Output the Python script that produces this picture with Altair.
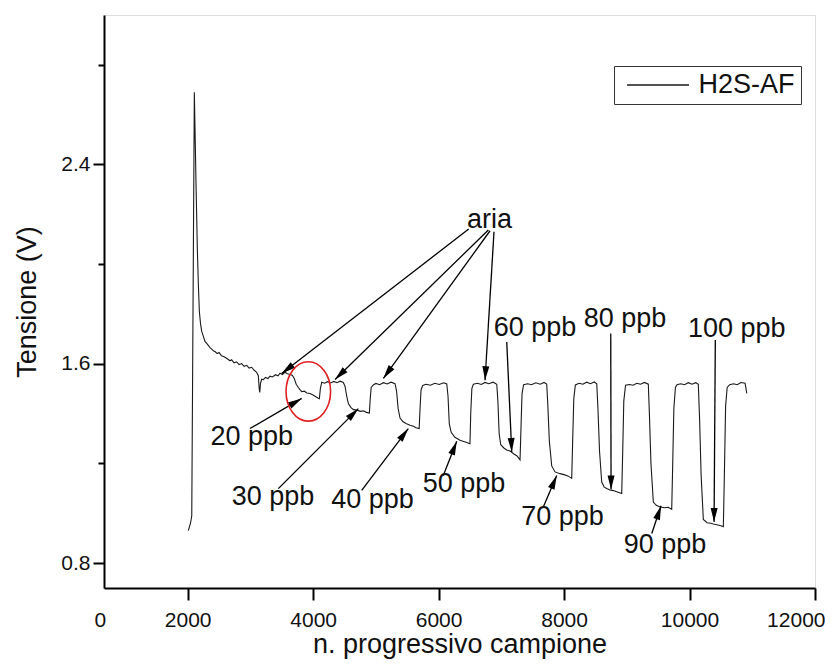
import math
import altair as alt
import pandas as pd

# ---------------- data ----------------
sample_x = [2010, 2045, 2065, 2106, 2120, 2133, 2154, 2170, 2186, 2205, 2224, 2250, 2276, 2310,
            2356, 2380, 2409, 2440, 2470, 2500, 2540, 2580, 2620, 2675, 2700, 2740, 2780, 2820,
            2860, 2900, 2941, 2980, 3020, 3060, 3100, 3126, 3140, 3150, 3160, 3180, 3206, 3240,
            3280, 3312, 3350, 3400, 3440, 3472, 3510, 3550, 3590, 3632, 3670, 3700, 3730, 3764,
            3790, 3818, 3860, 3900, 3950, 3990, 4030, 4057, 4080, 4099, 4115, 4137, 4180, 4230,
            4280, 4330, 4380, 4430, 4481, 4508, 4535, 4561, 4600, 4641, 4700, 4750, 4800, 4850,
            4896, 4910, 4925, 4959, 5000, 5060, 5120, 5180, 5240, 5305, 5330, 5355, 5385, 5430,
            5480, 5545, 5600, 5640, 5690, 5704, 5720, 5747, 5800, 5870, 5940, 6010, 6080, 6130,
            6150, 6170, 6200, 6260, 6341, 6400, 6450, 6500, 6512, 6530, 6554, 6620, 6680, 6740,
            6800, 6870, 6927, 6945, 6965, 6990, 7040, 7086, 7140, 7200, 7250, 7298, 7314, 7330,
            7355, 7420, 7480, 7550, 7620, 7680, 7723, 7740, 7765, 7803, 7856, 7935, 8000, 8060,
            8122, 8138, 8155, 8180, 8240, 8300, 8360, 8420, 8480, 8521, 8540, 8565, 8600, 8640,
            8680, 8730, 8785, 8850, 8919, 8935, 8952, 8980, 9040, 9100, 9160, 9220, 9280, 9343,
            9360, 9385, 9423, 9470, 9530, 9600, 9660, 9716, 9732, 9750, 9775, 9800, 9860, 9920,
            9980, 10040, 10100, 10140, 10160, 10185, 10220, 10280, 10340, 10380, 10450, 10500,
            10539, 10555, 10575, 10600, 10640, 10700, 10760, 10820, 10885, 10900, 10912]
tension_v = [0.93, 0.96, 0.99, 2.69, 2.50, 2.32, 2.06, 1.92, 1.81, 1.76, 1.73, 1.71, 1.69, 1.68,
             1.665, 1.660, 1.652, 1.648, 1.641, 1.645, 1.632, 1.628, 1.622, 1.612, 1.616, 1.604,
             1.608, 1.597, 1.601, 1.590, 1.594, 1.583, 1.586, 1.574, 1.566, 1.552, 1.500, 1.485,
             1.520, 1.538, 1.536, 1.545, 1.541, 1.550, 1.547, 1.556, 1.552, 1.562, 1.557, 1.566,
             1.560, 1.557, 1.553, 1.540, 1.518, 1.505, 1.496, 1.488, 1.490, 1.483, 1.481, 1.476,
             1.470, 1.466, 1.462, 1.460, 1.500, 1.526, 1.522, 1.528, 1.523, 1.529, 1.524, 1.530,
             1.525, 1.510, 1.470, 1.440, 1.425, 1.416, 1.414, 1.409, 1.411, 1.405, 1.402, 1.460,
             1.505, 1.515, 1.521, 1.516, 1.524, 1.519, 1.526, 1.520, 1.490, 1.420, 1.382, 1.368,
             1.360, 1.353, 1.349, 1.343, 1.340, 1.420, 1.495, 1.513, 1.518, 1.514, 1.522, 1.517,
             1.524, 1.519, 1.470, 1.360, 1.325, 1.305, 1.293, 1.288, 1.284, 1.279, 1.400, 1.500,
             1.518, 1.522, 1.517, 1.525, 1.520, 1.526, 1.518, 1.450, 1.320, 1.275, 1.262, 1.254,
             1.250, 1.238, 1.230, 1.214, 1.350, 1.480, 1.516, 1.520, 1.516, 1.524, 1.518, 1.525,
             1.519, 1.440, 1.290, 1.190, 1.166, 1.159, 1.155, 1.150, 1.140, 1.300, 1.460, 1.515,
             1.522, 1.518, 1.526, 1.520, 1.527, 1.520, 1.420, 1.250, 1.125, 1.105, 1.099, 1.093,
             1.091, 1.085, 1.079, 1.250, 1.450, 1.514, 1.517, 1.514, 1.522, 1.518, 1.525, 1.518,
             1.400, 1.200, 1.045, 1.032, 1.025, 1.022, 1.024, 1.016, 1.200, 1.420, 1.505, 1.516,
             1.520, 1.516, 1.524, 1.518, 1.524, 1.518, 1.380, 1.150, 0.975, 0.962, 0.960, 0.957,
             0.953, 0.950, 0.946, 1.150, 1.430, 1.505, 1.516, 1.520, 1.516, 1.525, 1.522, 1.500,
             1.481]
series_name = ["H2S-AF"]

ann_labels = ["aria", "20 ppb", "30 ppb", "40 ppb", "50 ppb", "60 ppb",
              "70 ppb", "80 ppb", "90 ppb", "100 ppb"]
ann_x = [6812, 3021, 3360, 4947, 6405, 7537, 7975, 8972, 9609, 10752]
ann_y = [2.145, 1.273, 1.032, 1.020, 1.086, 1.711, 0.951, 1.749, 0.839, 1.709]

arrow_x1 = [6480, 6793, 6820, 6883, 2994, 3445, 4774, 6075, 7086, 7669, 8744, 9398, 10411]
arrow_y1 = [2.141, 2.137, 2.134, 2.130, 1.340, 1.099, 1.092, 1.152, 1.688, 1.025, 1.722, 0.919, 1.695]
arrow_x2 = [3499, 4349, 5119, 6740, 3818, 4720, 5517, 6289, 7166, 7883, 8749, 9546, 10391]
arrow_y2 = [1.561, 1.537, 1.541, 1.534, 1.461, 1.420, 1.340, 1.289, 1.246, 1.152, 1.095, 1.030, 0.965]

circle_x = [3923]
circle_y = [1.489]

x_ticks = [666, 2000, 4000, 6000, 8000, 10000, 12000]
y_ticks = [0.8, 1.2, 1.6, 2.0, 2.4, 2.8]

# ---------------- layout ----------------
XMIN, XMAX = 666, 12000
YMIN, YMAX = 0.7, 3.0
W, H = 711, 573
FONT = "Liberation Sans"

kx = W / (XMAX - XMIN)
ky = H / (YMAX - YMIN)

trace = pd.DataFrame({"x": sample_x, "y": tension_v, "series": series_name * len(sample_x)})
ann = pd.DataFrame({"x": ann_x, "y": ann_y, "label": ann_labels})
arrows = pd.DataFrame({"x": arrow_x1, "y": arrow_y1, "x2": arrow_x2, "y2": arrow_y2})
arrows["angle"] = [
    math.degrees(math.atan2((bx - ax) * kx, (by - ay) * ky)) % 360
    for ax, ay, bx, by in zip(arrow_x1, arrow_y1, arrow_x2, arrow_y2)
]
circ = pd.DataFrame({"x": circle_x, "y": circle_y})

xs = alt.Scale(domain=[XMIN, XMAX], nice=False, zero=False)
ys = alt.Scale(domain=[YMIN, YMAX], nice=False, zero=False)

major_test = "round(datum.value*10) % 8 == 0"

x_axis = alt.Axis(
    values=x_ticks,
    labelExpr="datum.value < 1000 ? '0' : format(datum.value, 'd')",
    tickOpacity={"condition": {"test": "datum.value < 1000", "value": 0}, "value": 1},
    grid=False, domainColor="black", domainWidth=2, tickColor="black", tickWidth=2,
    tickSize=12, labelFontSize=21, labelFont=FONT, labelColor="#111", labelPadding=9,
    labelFlush=True, labelFlushOffset=10, labelOverlap=False,
    title="n. progressivo campione", titleFontSize=27, titleFont=FONT,
    titleFontWeight="normal", titleColor="#111", titleY=64, titleBaseline="alphabetic",
)
y_axis = alt.Axis(
    values=y_ticks,
    labelExpr=f"({major_test}) ? format(datum.value, '.1f') : ''",
    tickSize={"condition": {"test": major_test, "value": 11}, "value": 6},
    grid=False, domainColor="black", domainWidth=2, tickColor="black", tickWidth=2,
    labelFontSize=21, labelFont=FONT, labelColor="#111", labelPadding=3,
    labelFlush=False, labelOverlap=False,
    title="Tensione (V)", titleFontSize=27, titleFont=FONT, titleFontWeight="normal",
    titleColor="#111", titleAngle=270, titleX=-69, titleBaseline="alphabetic",
)

X = alt.X("x:Q", scale=xs, axis=x_axis, title="n. progressivo campione")
Y = alt.Y("y:Q", scale=ys, axis=y_axis, title="Tensione (V)")

line = alt.Chart(trace).mark_line(strokeWidth=1.1, clip=True).encode(
    x=X, y=Y,
    color=alt.Color(
        "series:N",
        scale=alt.Scale(domain=series_name, range=["#1a1a1a"]),
        legend=alt.Legend(
            title=None, orient="none", legendX=510, legendY=51,
            strokeColor="#333", fillColor="white", padding=5.5,
            symbolType="M-0.58,0L5.44,0", symbolSize=424, symbolStrokeWidth=1.5,
            symbolStrokeColor="#555",
            labelFontSize=27, labelFont=FONT, labelColor="#111", labelOffset=52,
            labelExpr="datum.label + '\u00a0'",
        ),
    ),
)

rules = alt.Chart(arrows).mark_rule(color="black", strokeWidth=1.3).encode(
    x=X, y=Y, x2="x2:Q", y2="y2:Q"
)

heads = alt.Chart(arrows).mark_point(
    shape="M0,0L-0.5,2L0.5,2Z", filled=True, color="black", opacity=1, size=196
).encode(
    x=alt.X("x2:Q", scale=xs, axis=x_axis, title="n. progressivo campione"),
    y=alt.Y("y2:Q", scale=ys, axis=y_axis, title="Tensione (V)"),
    angle=alt.Angle("angle:Q", scale=None),
)

texts = alt.Chart(ann).mark_text(
    fontSize=27, font=FONT, color="#111", align="center", baseline="alphabetic"
).encode(x=X, y=Y, text="label:N")

ellipse = alt.Chart(circ).mark_point(
    shape="M0,-1A0.75,1,0,1,1,0,1A0.75,1,0,1,1,0,-1Z", filled=False,
    stroke="#e02020", strokeWidth=1.6, size=3528, opacity=1
).encode(x=X, y=Y)

chart = alt.layer(line, rules, heads, texts, ellipse).properties(
    width=W, height=H,
    autosize=alt.AutoSizeParams(type="none"),
    padding={"left": 96, "top": 7, "right": 10, "bottom": 75},
).configure_view(stroke=None).configure(background="white")

chart.save("out.html", embed_options={"renderer": "svg", "actions": False})
